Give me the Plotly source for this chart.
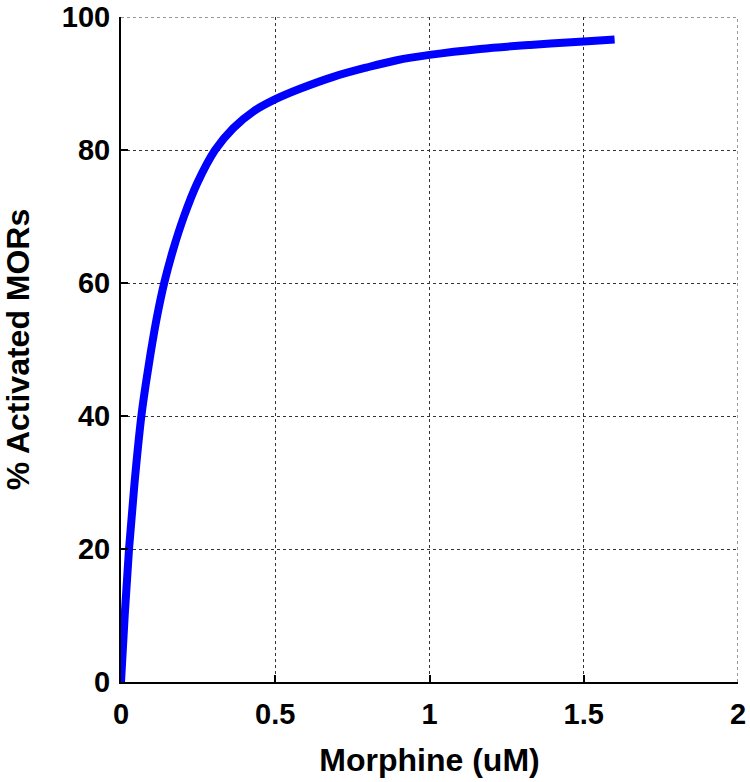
import plotly.graph_objects as go

# Morphine concentration (uM) and % activated MORs
morphine_uM = [0.0, 0.012, 0.026, 0.044, 0.066, 0.081, 0.098, 0.117, 0.140, 0.169,
               0.204, 0.247, 0.305, 0.364, 0.429, 0.499, 0.580, 0.688, 0.796, 0.894,
               1.000, 1.164, 1.326, 1.500, 1.600]
activated_pct = [0.0, 10.0, 20.0, 30.0, 40.0, 45.0, 50.0, 55.0, 60.0, 65.0,
                 70.0, 75.0, 80.0, 83.3, 85.8, 87.6, 89.2, 91.0, 92.4, 93.5,
                 94.3, 95.2, 95.8, 96.3, 96.6]

x_ticks = [0, 0.5, 1, 1.5, 2]
x_tick_text = ["0", "0.5", "1", "1.5", "2"]
y_ticks = [0, 20, 40, 60, 80, 100]

FONT = "Arial, Liberation Sans, sans-serif"

fig = go.Figure()
fig.add_trace(go.Scatter(
    x=morphine_uM, y=activated_pct, mode="lines",
    line=dict(color="#0000FF", width=8, shape="spline", smoothing=1.0),
    showlegend=False,
))

grid = dict(showgrid=True, gridcolor="#333333", griddash="dot", gridwidth=1)

fig.update_layout(
    width=750, height=782,
    margin=dict(l=121, r=12, t=17, b=100),
    paper_bgcolor="white", plot_bgcolor="white",
    font=dict(family=FONT, color="black"),
    xaxis=dict(
        range=[0, 2], tickvals=x_ticks, ticktext=x_tick_text, automargin=False,
        ticklabeloverflow="allow", ticklabelstandoff=5,
        ticks="inside", ticklen=7, tickwidth=2, tickcolor="black",
        showline=True, linecolor="black", linewidth=2, zeroline=False,
        tickfont=dict(size=29, family=FONT, weight="bold"),
        title=dict(text="<b>Morphine (uM)</b>", font=dict(size=32, family=FONT), standoff=20),
        **grid,
    ),
    yaxis=dict(
        range=[0, 100], tickvals=y_ticks, automargin=False,
        ticklabeloverflow="allow", ticklabelstandoff=3,
        ticks="inside", ticklen=7, tickwidth=2, tickcolor="black",
        showline=True, linecolor="black", linewidth=2, zeroline=False,
        tickfont=dict(size=29, family=FONT, weight="bold"),
        title=dict(text="<b>% Activated MORs</b>", font=dict(size=32, family=FONT), standoff=24),
        **grid,
    ),
)

# dotted grid lines at the top and right edges of the box
fig.add_shape(type="line", xref="paper", yref="y", x0=0, x1=1, y0=y_ticks[-1], y1=y_ticks[-1],
              line=dict(color="#333333", width=1, dash="dot"), layer="below")
fig.add_shape(type="line", xref="x", yref="paper", x0=x_ticks[-1], x1=x_ticks[-1], y0=0, y1=1,
              line=dict(color="#333333", width=1, dash="dot"), layer="below")

# remove the default 8px page margin so the figure fills the window exactly
fig.write_html("out.html",
               config={"displayModeBar": False},
               post_script="document.body.style.margin='0';document.body.style.overflow='hidden';")
